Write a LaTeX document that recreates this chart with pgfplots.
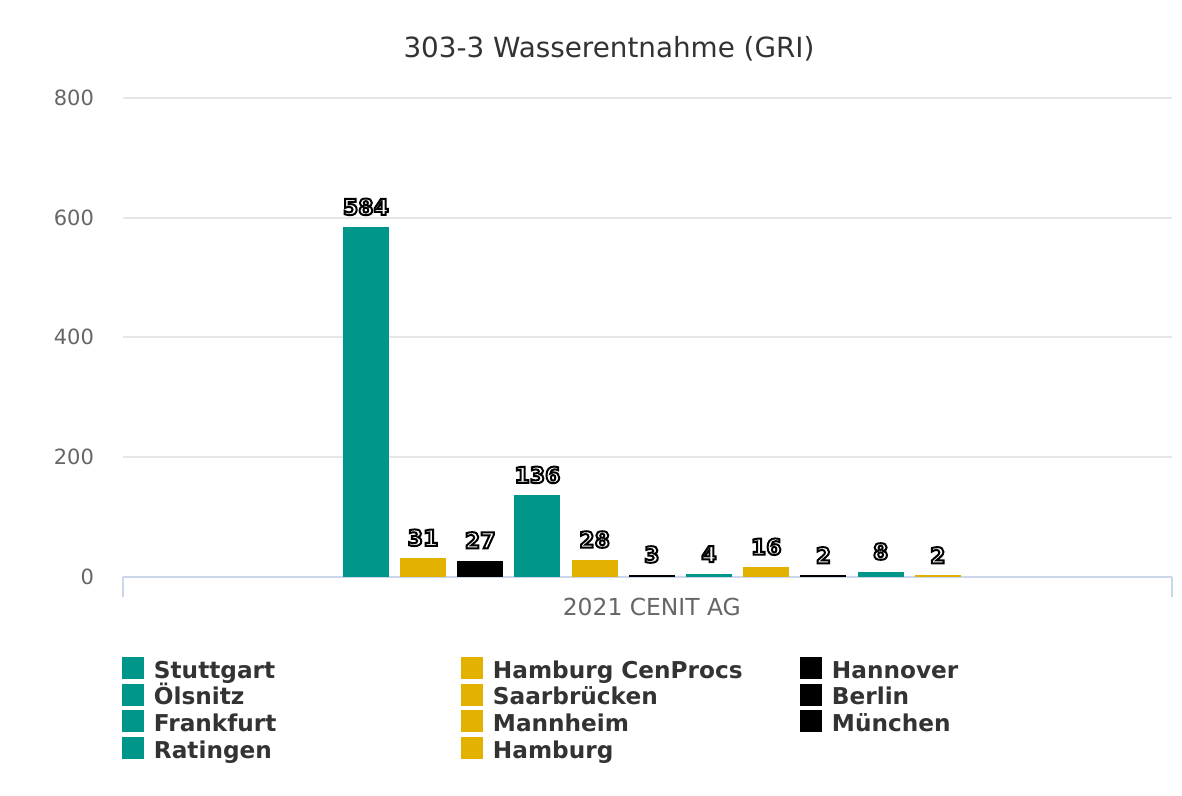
\documentclass[border=0pt]{standalone}
\usepackage{pgfplots}
\pgfplotsset{compat=1.18}
\usepackage{fontspec}
\setmainfont{DejaVu Sans}
\newfontfamily\lblfont[BoldFeatures={FakeBold=9}]{DejaVu Sans}
\definecolor{cteal}{HTML}{00978A}
\definecolor{cgold}{HTML}{E3B100}
\definecolor{cblack}{HTML}{000000}
\definecolor{gridc}{HTML}{E6E6E6}
\definecolor{axisc}{HTML}{CCD6EB}
\definecolor{labc}{HTML}{666666}
\definecolor{titc}{HTML}{333333}
\begin{document}
\begin{tikzpicture}
\path (0,0) rectangle (591pt,398pt);
\node[anchor=base, font=\fontsize{13.9}{16}\selectfont, text=titc] at (304.5pt,369.35pt) {303-3 Wasserentnahme (GRI)};
\begin{axis}[
  at={(61.5pt,109.65pt)}, anchor=south west,
  scale only axis, width=524.5pt, height=239.35pt,
  xmin=-4.246, xmax=14.094, ymin=0, ymax=800,
  /pgf/number format/assume math mode=true,
  axis line style={draw=none},
  tick pos=left,
  ytick={0,200,400,600,800},
  ymajorgrids, grid style={draw=gridc, line width=1pt},
  major tick length=0pt,
  yticklabel style={font=\fontsize{10.5}{12}\selectfont, text=labc, xshift=-11pt},
  xtick={5}, xticklabels={2021 CENIT AG},
  xticklabel style={font=\fontsize{11.7}{14}\selectfont, text=labc, yshift=-7.25pt},
  extra x ticks={-4.246,14.094}, extra x tick labels={},
  extra x tick style={major tick length=10pt, tick align=outside, tick style={draw=axisc, line width=1pt}},
  extra y ticks={0}, extra y tick labels={},
  extra y tick style={grid style={draw=axisc, line width=1pt}},
  ybar, bar width=0.804, bar shift=0pt,
  nodes near coords={\special{pdf:literal direct 0 0 0 RG}\lblfont\bfseries\pgfmathprintnumber[assume math mode=true]{\pgfplotspointmeta}},
  every node near coord/.append style={font=\fontsize{11}{13}\selectfont, text=white, anchor=south, yshift=2.5pt},
  clip=false,
  legend columns=3,
  legend cell align=left,
  legend image code/.code={\fill[#1] (0pt,-5.5pt) rectangle (11pt,5.5pt); \path (16pt,0pt);},
  legend style={draw=none, fill=none, inner sep=0pt, outer sep=0pt, column sep=0pt, row sep=2.35pt,
    nodes={inner sep=0pt, text height=10.65pt, text depth=0.35pt, font=\bfseries\fontsize{11.6}{14}\selectfont, text=titc},
    at={(-0.001,-0.1677)}, anchor=north west},
]
\addplot[fill=cteal, draw=none] coordinates {(0,584)};
\addlegendentry{\makebox[153.5pt][l]{Stuttgart}}
\addplot[fill=cgold, draw=none] coordinates {(1,31)};
\addlegendentry{\makebox[153.5pt][l]{Hamburg CenProcs}}
\addplot[fill=cblack, draw=none] coordinates {(2,27)};
\addlegendentry{\makebox[153.5pt][l]{Hannover}}
\addplot[fill=cteal, draw=none] coordinates {(3,136)};
\addlegendentry{\makebox[153.5pt][l]{Ölsnitz}}
\addplot[fill=cgold, draw=none] coordinates {(4,28)};
\addlegendentry{\makebox[153.5pt][l]{Saarbrücken}}
\addplot[fill=cblack, draw=none] coordinates {(5,3)};
\addlegendentry{\makebox[153.5pt][l]{Berlin}}
\addplot[fill=cteal, draw=none] coordinates {(6,4)};
\addlegendentry{\makebox[153.5pt][l]{Frankfurt}}
\addplot[fill=cgold, draw=none] coordinates {(7,16)};
\addlegendentry{\makebox[153.5pt][l]{Mannheim}}
\addplot[fill=cblack, draw=none] coordinates {(8,2)};
\addlegendentry{\makebox[153.5pt][l]{München}}
\addplot[fill=cteal, draw=none] coordinates {(9,8)};
\addlegendentry{\makebox[153.5pt][l]{Ratingen}}
\addplot[fill=cgold, draw=none] coordinates {(10,2)};
\addlegendentry{\makebox[153.5pt][l]{Hamburg}}
\end{axis}
\end{tikzpicture}
\end{document}
